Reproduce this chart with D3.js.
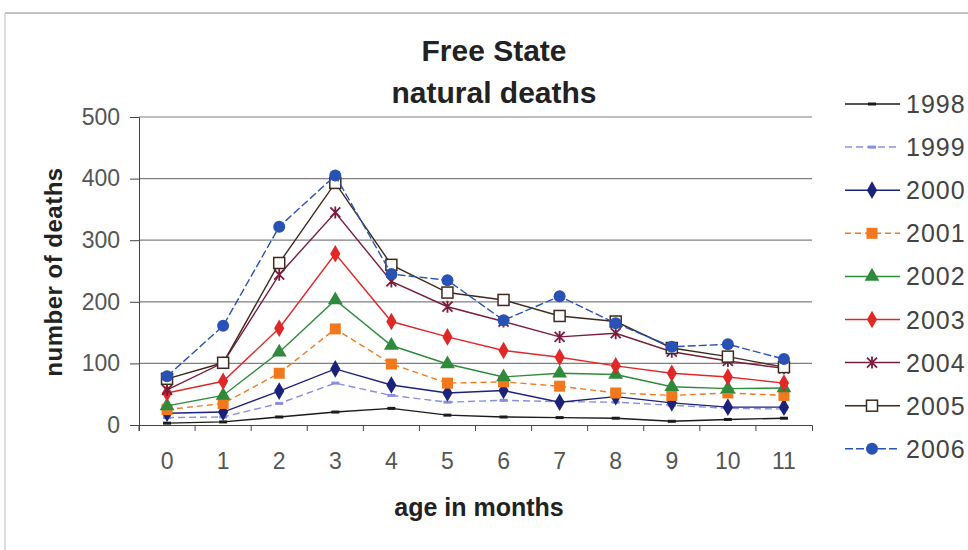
<!DOCTYPE html>
<html>
<head>
<meta charset="utf-8">
<script src="https://cdn.jsdelivr.net/npm/d3@7"></script>
<style>
  body { margin: 0; background: #fff; }
  svg { font-family: "Liberation Sans", Arial, sans-serif; }
</style>
</head>
<body>
<svg id="svg1"></svg>
<script>
// data
const months = ["0", "1", "2", "3", "4", "5", "6", "7", "8", "9", "10", "11"];
const years = ["1998", "1999", "2000", "2001", "2002", "2003", "2004", "2005", "2006"];
const yTicks = [0, 100, 200, 300, 400, 500];

const d1998 = [3, 5, 13, 21, 27, 16, 13, 12, 11, 6, 9, 11];
const d1999 = [12, 13, 35, 68, 48, 37, 40, 38, 37, 32, 27, 26];
const d2000 = [19, 21, 55, 91, 65, 52, 56, 37, 46, 36, 29, 29];
const d2001 = [25, 35, 84, 156, 99, 68, 70, 63, 52, 48, 52, 48];
const d2002 = [31, 48, 118, 203, 129, 99, 78, 84, 82, 62, 59, 60];
const d2003 = [52, 71, 157, 278, 168, 143, 121, 110, 96, 84, 78, 68];
const d2004 = [57, 101, 244, 345, 233, 192, 168, 143, 149, 119, 104, 92];
const d2005 = [75, 101, 263, 393, 260, 215, 203, 177, 168, 125, 111, 94];
const d2006 = [79, 161, 322, 405, 245, 235, 170, 209, 165, 127, 131, 107];

const seriesValues = [d1998, d1999, d2000, d2001, d2002, d2003, d2004, d2005, d2006];

// look of each series
const styles = [
  {color: "#1a1a1a", dash: null,  marker: "dash"},
  {color: "#8a8ee0", dash: "7,4", marker: "dash"},
  {color: "#1c2278", dash: null,  marker: "diamond"},
  {color: "#f2781e", dash: "6,4", marker: "square"},
  {color: "#2f8a3c", dash: null,  marker: "triangle"},
  {color: "#e02828", dash: null,  marker: "diamond"},
  {color: "#7a1c3c", dash: null,  marker: "star"},
  {color: "#3e2a1e", dash: null,  marker: "open"},
  {color: "#2a52b4", dash: "8,3", marker: "circle"}
];

const width = 968, height = 550;
const plot = {left: 139, right: 812, top: 117, bottom: 425};

const svg = d3.select("#svg1")
    .attr("width", width)
    .attr("height", height);

// outer frame remains
svg.append("line")
    .attr("x1", 5).attr("x2", width).attr("y1", 13).attr("y2", 13)
    .attr("stroke", "#888").attr("stroke-width", 1);
svg.append("line")
    .attr("x1", 5).attr("x2", 5).attr("y1", 13).attr("y2", height)
    .attr("stroke", "#bbb").attr("stroke-width", 1);

const x = d3.scaleBand()
    .domain(months)
    .range([plot.left, plot.right]);

const y = d3.scaleLinear()
    .domain([0, 500])
    .range([plot.bottom, plot.top]);

// gridlines
svg.append("g")
    .selectAll("line")
    .data(yTicks.filter(d => d > 0))
    .enter()
    .append("line")
    .attr("x1", plot.left)
    .attr("x2", plot.right)
    .attr("y1", d => y(d))
    .attr("y2", d => y(d))
    .attr("stroke", "#808080")
    .attr("stroke-width", 1.2);

// Y axis
const yAxis = svg.append("g")
    .attr("transform", "translate(" + plot.left + ",0)")
    .call(d3.axisLeft(y).tickValues(yTicks).tickSize(9).tickPadding(10));
yAxis.select(".domain").attr("stroke", "#444");
yAxis.selectAll(".tick line").attr("stroke", "#444");
yAxis.selectAll("text")
    .attr("font-size", 23)
    .attr("fill", "#555");

// X axis
const xAxis = svg.append("g")
    .attr("transform", "translate(0," + plot.bottom + ")")
    .call(d3.axisBottom(x).tickSizeOuter(0).tickSize(6).tickPadding(22));
xAxis.select(".domain").attr("stroke", "#444");
xAxis.selectAll(".tick line")
    .attr("stroke", "#444")
    .attr("transform", "translate(" + (-x.bandwidth() / 2) + ",0)");
xAxis.selectAll("text")
    .attr("font-size", 23)
    .attr("fill", "#555");

// markers
function drawMarker(g, type, color, cx, cy) {
  if (type === "dash") {
    g.append("rect")
        .attr("x", cx - 4).attr("y", cy - 1.5)
        .attr("width", 8).attr("height", 3)
        .attr("fill", color);
  } else if (type === "diamond") {
    g.append("path")
        .attr("d", d3.symbol(d3.symbolDiamond, 90)())
        .attr("transform", "translate(" + cx + "," + cy + ")")
        .attr("fill", color);
  } else if (type === "square") {
    g.append("rect")
        .attr("x", cx - 5.5).attr("y", cy - 5.5)
        .attr("width", 11).attr("height", 11)
        .attr("fill", color);
  } else if (type === "triangle") {
    g.append("path")
        .attr("d", d3.symbol(d3.symbolTriangle, 95)())
        .attr("transform", "translate(" + cx + "," + cy + ")")
        .attr("fill", color);
  } else if (type === "circle") {
    g.append("circle")
        .attr("cx", cx).attr("cy", cy).attr("r", 6)
        .attr("fill", color);
  } else if (type === "open") {
    g.append("rect")
        .attr("x", cx - 5.5).attr("y", cy - 5.5)
        .attr("width", 11).attr("height", 11)
        .attr("fill", "#fff")
        .attr("stroke", color)
        .attr("stroke-width", 1.5);
  } else if (type === "star") {
    g.append("path")
        .attr("d", "M" + (cx - 5) + "," + (cy - 5) + "L" + (cx + 5) + "," + (cy + 5) +
                   "M" + (cx + 5) + "," + (cy - 5) + "L" + (cx - 5) + "," + (cy + 5) +
                   "M" + cx + "," + (cy - 6) + "L" + cx + "," + (cy + 6))
        .attr("stroke", color)
        .attr("stroke-width", 1.8);
  }
}

const line = d3.line()
    .x((d, i) => x(months[i]) + x.bandwidth() / 2)
    .y(d => y(d));

seriesValues.forEach(function(vals, k) {
  const st = styles[k];
  const g = svg.append("g");
  g.append("path")
      .datum(vals)
      .attr("d", line)
      .attr("fill", "none")
      .attr("stroke", st.color)
      .attr("stroke-width", 1.4)
      .attr("stroke-dasharray", st.dash);
  vals.forEach(function(v, i) {
    drawMarker(g, st.marker, st.color, x(months[i]) + x.bandwidth() / 2, y(v));
  });
});

// legend
const legend = svg.append("g");
years.forEach(function(yr, k) {
  const st = styles[k];
  const ly = 104 + k * 43.1;
  const g = legend.append("g");
  g.append("line")
      .attr("x1", 845).attr("x2", 900)
      .attr("y1", ly).attr("y2", ly)
      .attr("stroke", st.color)
      .attr("stroke-width", 1.5)
      .attr("stroke-dasharray", st.dash);
  drawMarker(g, st.marker, st.color, 872, ly);
  g.append("text")
      .attr("x", 906)
      .attr("y", ly + 9)
      .attr("font-size", 25)
      .attr("letter-spacing", 1)
      .attr("fill", "#444")
      .text(yr);
});

// titles
svg.append("text")
    .attr("x", 494).attr("y", 61)
    .attr("text-anchor", "middle")
    .attr("font-size", 30)
    .attr("font-weight", "bold")
    .attr("fill", "#222")
    .text("Free State");
svg.append("text")
    .attr("x", 494).attr("y", 103)
    .attr("text-anchor", "middle")
    .attr("font-size", 30)
    .attr("font-weight", "bold")
    .attr("fill", "#222")
    .text("natural deaths");

svg.append("text")
    .attr("transform", "translate(62,272)rotate(-90)")
    .attr("text-anchor", "middle")
    .attr("font-size", 24)
    .attr("font-weight", "bold")
    .attr("letter-spacing", 0.5)
    .attr("fill", "#222")
    .text("number of deaths");

svg.append("text")
    .attr("x", 479).attr("y", 516)
    .attr("text-anchor", "middle")
    .attr("font-size", 25)
    .attr("font-weight", "bold")
    .attr("fill", "#222")
    .text("age in months");
</script>
</body>
</html>
